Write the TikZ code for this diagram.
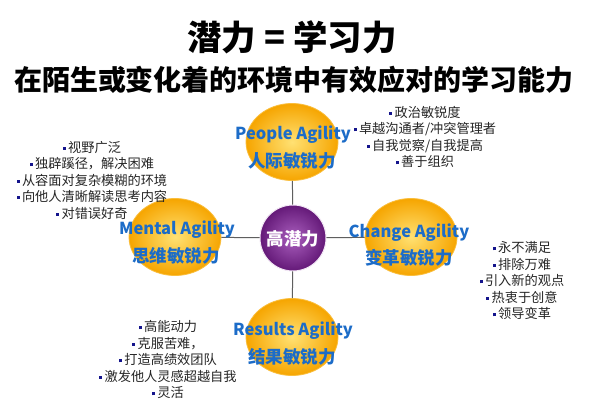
\documentclass[tikz,border=0pt]{standalone}
\usepackage{fontspec}
\setmainfont{Noto Sans CJK SC}
\usetikzlibrary{shapes.geometric}
\definecolor{agblue}{RGB}{28,108,200}
\definecolor{navy}{RGB}{20,20,140}
\definecolor{ballout}{RGB}{246,165,0}
\definecolor{ballin}{RGB}{255,225,115}
\definecolor{purpout}{RGB}{100,25,120}
\definecolor{purpin}{RGB}{170,95,190}
\definecolor{linegray}{RGB}{95,95,95}
\newcommand{\bl}{\raisebox{2.5pt}{\color{navy}\rule{3pt}{3pt}}\,}
\tikzset{
  ball/.style={ellipse, minimum width=92pt, minimum height=77pt, inner sep=0pt,
    draw={rgb,255:red,250;green,190;blue,60}, line width=0.8pt,
    inner color=ballin, outer color=ballout},
  core/.style={circle, minimum size=66pt, inner sep=0pt, draw=white!85!purpin, line width=1pt,
    inner color=purpin, outer color=purpout},
  conn/.style={draw=linegray, line width=1pt},
  aglabel/.style={text=agblue, font=\fontsize{16.5}{20}\bfseries\selectfont, inner sep=0pt},
  cnlabel/.style={text=agblue, font=\fontsize{17.5}{20}\bfseries\selectfont, inner sep=0pt},
  blist/.style={align=center, font=\fontsize{13.2}{16.5}\selectfont, text=black!85, inner sep=0pt},
}
\begin{document}
\begin{tikzpicture}[x=1pt,y=-1pt]
\useasboundingbox[fill=white] (0,0) rectangle (600,406);
% title
\node[font=\fontsize{34.5}{38}\bfseries\selectfont, inner sep=0pt] (title) at (292,37) {潜力 = 学习力};
\node[font=\fontsize{28}{30}\bfseries\selectfont, inner sep=0pt] (sub) at (294,80) {在陌生或变化着的环境中有效应对的学习能力};
% balls
\node[ball] (people) at (292,142) {};
\node[ball] (results) at (292,337) {};
\node[ball] (change) at (411,237) {};
\node[ball] (mental) at (175,237) {};
\node[core] (hp) at (293,238) {};
% connectors
\draw[conn] (people) -- (hp);
\draw[conn] (results) -- (hp);
\draw[conn] (change) -- (hp);
\draw[conn] (mental) -- (hp);
% labels
\node[text=white, font=\fontsize{17.5}{20}\bfseries\selectfont, inner sep=0pt] (hpl) at (293,239) {高潜力};
\node[aglabel] (pl1) at (293,135) {People Agility};
\node[cnlabel] (pl2) at (292,161) {人际敏锐力};
\node[aglabel] (rl1) at (293,331) {Results Agility};
\node[cnlabel] (rl2) at (292,357) {结果敏锐力};
\node[aglabel] (cl1) at (409,233) {Change Agility};
\node[cnlabel] (cl2) at (409,258) {变革敏锐力};
\node[aglabel] (ml1) at (177,230) {Mental Agility};
\node[cnlabel] (ml2) at (176,256) {思维敏锐力};
% bullet lists
\node[blist] (lst1) at (92,180) {\bl 视野广泛\\ \bl 独辟蹊径，解决困难\\ \bl 从容面对复杂模糊的环境\\ \bl 向他人清晰解读思考内容\\ \bl 对错误好奇};
\node[blist] (lst2) at (425,137) {\bl 政治敏锐度\\ \bl 卓越沟通者/冲突管理者\\ \bl 自我觉察/自我提高\\ \bl 善于组织};
\node[blist] (lst3) at (522,281) {\bl 永不满足\\ \bl 排除万难\\ \bl 引入新的观点\\ \bl 热衷于创意\\ \bl 领导变革};
\node[blist] (lst4) at (168,360) {\bl 高能动力\\ \bl 克服苦难，\\ \bl 打造高绩效团队\\ \bl 激发他人灵感超越自我\\ \bl 灵活};
\end{tikzpicture}
\end{document}
